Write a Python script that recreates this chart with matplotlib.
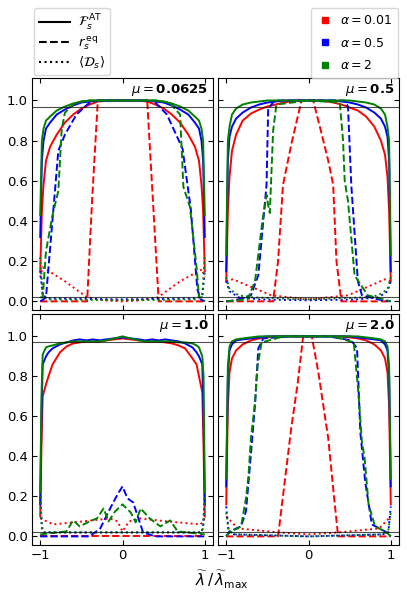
import numpy as np
import matplotlib
matplotlib.use("Agg")
import matplotlib.pyplot as plt
from matplotlib.lines import Line2D

plt.rcParams['mathtext.fontset'] = 'dejavusans'
plt.rcParams['font.family'] = ['DejaVu Sans']

mus = ["0.0625", "0.5", "1.0", "2.0"]
alphas = ["0.01", "0.5", "2"]
colors = ["red", "blue", "green"]

# ---------------- Panel A: mu = 0.0625 ----------------
A_xs = [-1, -0.98, -0.96, -0.93, -0.88, -0.8, -0.7, -0.6, -0.5, -0.4, -0.3, -0.15, 0,
        0.15, 0.3, 0.4, 0.5, 0.6, 0.7, 0.8, 0.88, 0.93, 0.96, 0.98, 1]
A_solid_red = [0.15, 0.45, 0.58, 0.70, 0.77, 0.83, 0.89, 0.93, 0.96, 0.98, 0.995, 1.0, 1.0,
               1.0, 0.995, 0.98, 0.96, 0.93, 0.89, 0.83, 0.77, 0.70, 0.58, 0.45, 0.15]
A_solid_blue = [0.32, 0.70, 0.80, 0.86, 0.89, 0.93, 0.955, 0.975, 0.99, 0.995, 1.0, 1.0, 1.0,
                1.0, 1.0, 0.995, 0.99, 0.975, 0.955, 0.93, 0.89, 0.86, 0.80, 0.70, 0.32]
A_solid_green = [0.43, 0.80, 0.86, 0.90, 0.92, 0.95, 0.97, 0.985, 0.995, 1.0, 1.0, 1.0, 1.0,
                 1.0, 1.0, 1.0, 0.995, 0.985, 0.97, 0.95, 0.92, 0.90, 0.86, 0.80, 0.43]
A_dash_red_x = [-1, -0.43, -0.37, -0.3, 0.3, 0.37, 0.44, 1]
A_dash_red_y = [0.0, 0.0, 0.5, 1.0, 1.0, 0.5, 0.0, 0.0]
A_dash_blue_x = [-1, -0.96, -0.93, -0.85, -0.78, -0.70, -0.56, -0.40, -0.3, 0, 0.3, 0.40,
                 0.54, 0.73, 0.83, 0.91, 0.95, 1]
A_dash_blue_y = [0.0, 0.01, 0.02, 0.41, 0.75, 0.83, 0.93, 0.99, 1.0, 1.0, 1.0, 0.99,
                 0.93, 0.76, 0.46, 0.06, 0.01, 0.0]
A_dash_green_x = [-1, -0.97, -0.93, -0.85, -0.78, -0.74, -0.70, -0.57, -0.4, 0, 0.4, 0.57,
                  0.70, 0.74, 0.82, 0.9, 0.93, 0.97, 1]
A_dash_green_y = [0.02, 0.02, 0.25, 0.43, 0.55, 0.85, 0.94, 0.99, 1.0, 1.0, 1.0, 0.99,
                  0.93, 0.57, 0.47, 0.17, 0.02, 0.02, 0.0]
A_dot_red_x = [-1, -0.97, -0.7, -0.43, -0.2, 0, 0.2, 0.43, 0.7, 0.97, 1]
A_dot_red_y = [0.12, 0.17, 0.10, 0.02, 0.005, 0.0, 0.005, 0.02, 0.10, 0.16, 0.12]
A_dot_blue_x = [-1, -0.97, -0.9, 0, 0.9, 0.97, 1]
A_dot_blue_y = [0.15, 0.03, 0.015, 0.01, 0.015, 0.03, 0.15]
A_dot_green_x = [-1, -0.97, -0.9, 0, 0.9, 0.97, 1]
A_dot_green_y = [0.22, 0.03, 0.01, 0.005, 0.01, 0.03, 0.22]

# ---------------- Panel B: mu = 0.5 ----------------
B_xs = A_xs
B_solid_red = [0.10, 0.45, 0.62, 0.75, 0.83, 0.90, 0.935, 0.955, 0.97, 0.98, 0.99, 1.0, 1.0,
               1.0, 0.99, 0.98, 0.965, 0.95, 0.92, 0.87, 0.80, 0.73, 0.62, 0.45, 0.10]
B_solid_blue = [0.15, 0.70, 0.82, 0.87, 0.91, 0.94, 0.965, 0.98, 0.99, 0.995, 1.0, 1.0, 1.0,
                1.0, 1.0, 0.995, 0.99, 0.98, 0.965, 0.94, 0.91, 0.87, 0.82, 0.70, 0.15]
B_solid_green = [0.23, 0.80, 0.87, 0.93, 0.96, 0.98, 0.99, 0.995, 1.0, 1.0, 1.0, 1.0, 1.0,
                 1.0, 1.0, 1.0, 1.0, 0.995, 0.99, 0.98, 0.96, 0.93, 0.87, 0.80, 0.23]
B_dash_red_x = [-1, -0.43, -0.37, -0.31, -0.21, -0.085, 0.057, 0.15, 0.24, 0.30, 0.34, 0.40, 1]
B_dash_red_y = [0.0, 0.0, 0.2, 0.58, 0.78, 1.0, 1.0, 0.85, 0.7, 0.58, 0.2, 0.0, 0.0]
B_dash_blue_x = [-1, -0.9, -0.7, -0.61, -0.51, -0.49, -0.41, 0, 0.44, 0.48, 0.52, 0.6, 0.65, 0.9, 1]
B_dash_blue_y = [0.0, 0.005, 0.03, 0.13, 0.58, 0.96, 1.0, 1.0, 1.0, 0.97, 0.58, 0.1, 0.03, 0.005, 0.0]
B_dash_green_x = [-1, -0.74, -0.65, -0.56, -0.51, -0.49, -0.47, -0.43, -0.39, 0, 0.38, 0.42,
                  0.44, 0.46, 0.48, 0.56, 0.72, 1]
B_dash_green_y = [0.0, 0.01, 0.1, 0.4, 0.53, 0.48, 0.44, 0.85, 0.98, 1.0, 0.99, 0.8,
                  0.6, 0.55, 0.5, 0.13, 0.03, 0.0]
B_dot_red_x = [-1, -0.92, -0.45, 0, 0.48, 0.93, 1]
B_dot_red_y = [0.10, 0.11, 0.03, 0.01, 0.03, 0.11, 0.10]
B_dot_blue_x = [-1, -0.96, -0.85, -0.6, 0, 0.6, 0.85, 0.96, 1]
B_dot_blue_y = [0.10, 0.05, 0.02, 0.01, 0.005, 0.01, 0.02, 0.05, 0.10]
B_dot_green_x = [-1, -0.96, -0.85, -0.7, 0, 0.7, 0.85, 0.96, 1]
B_dot_green_y = [0.12, 0.06, 0.03, 0.02, 0.01, 0.02, 0.03, 0.06, 0.12]

# ---------------- Panel C: mu = 1.0 ----------------
C_xs = [-1, -0.985, -0.97, -0.93, -0.9, -0.85, -0.76, -0.68, -0.6, -0.52, -0.44, -0.36, -0.28,
        -0.2, -0.1, 0, 0.1, 0.2, 0.28, 0.36, 0.44, 0.52, 0.6, 0.68, 0.76, 0.85, 0.9, 0.93,
        0.97, 0.985, 1]
C_solid_red = [0.10, 0.45, 0.70, 0.76, 0.80, 0.86, 0.92, 0.95, 0.965, 0.97, 0.975, 0.975, 0.975,
               0.98, 0.985, 0.99, 0.985, 0.98, 0.975, 0.975, 0.975, 0.97, 0.965, 0.955, 0.94,
               0.89, 0.86, 0.80, 0.72, 0.45, 0.10]
C_solid_blue = [0.16, 0.60, 0.86, 0.90, 0.92, 0.94, 0.96, 0.97, 0.98, 0.985, 0.98, 0.985, 0.98,
                0.985, 0.99, 0.995, 0.99, 0.985, 0.98, 0.985, 0.98, 0.985, 0.98, 0.975, 0.965,
                0.945, 0.92, 0.90, 0.86, 0.60, 0.16]
C_solid_green = [0.22, 0.70, 0.91, 0.945, 0.95, 0.955, 0.965, 0.97, 0.975, 0.975, 0.975, 0.975,
                 0.975, 0.98, 0.99, 1.0, 0.99, 0.98, 0.975, 0.975, 0.975, 0.975, 0.975, 0.97,
                 0.97, 0.965, 0.955, 0.945, 0.90, 0.80, 0.22]
C_dash_red_x = [-1, 0, 1]
C_dash_red_y = [0.0, 0.0, 0.0]
C_dash_blue_x = [-1, -0.4, -0.27, -0.15, -0.06, 0, 0.06, 0.13, 0.21, 0.25, 0.4, 1]
C_dash_blue_y = [0.0, 0.0, 0.04, 0.14, 0.21, 0.25, 0.19, 0.17, 0.07, 0.02, 0.0, 0.0]
C_dash_green_x = [-1, -0.68, -0.6, -0.52, -0.4, -0.31, -0.23, -0.17, -0.09, 0, 0.1, 0.16,
                  0.22, 0.33, 0.46, 0.58, 0.67, 1]
C_dash_green_y = [0.01, 0.025, 0.08, 0.05, 0.075, 0.09, 0.14, 0.075, 0.125, 0.16, 0.12, 0.07,
                  0.14, 0.09, 0.05, 0.08, 0.025, 0.01]
C_dot_red_x = [-1, -0.84, -0.48, -0.15, -0.06, 0, 0.08, 0.21, 0.54, 0.95, 1]
C_dot_red_y = [0.09, 0.06, 0.075, 0.09, 0.075, 0.025, 0.075, 0.09, 0.075, 0.06, 0.09]
C_dot_blue_x = [-1, -0.98, -0.96, 0, 0.96, 0.98, 1]
C_dot_blue_y = [0.20, 0.05, 0.02, 0.02, 0.02, 0.05, 0.20]
C_dot_green_x = [-1, -0.98, -0.95, 0, 0.95, 0.98, 1]
C_dot_green_y = [0.20, 0.04, 0.02, 0.02, 0.02, 0.04, 0.20]

# ---------------- Panel D: mu = 2.0 ----------------
D_xs = A_xs
D_solid_red = [0.16, 0.65, 0.82, 0.89, 0.93, 0.96, 0.98, 0.99, 0.995, 1.0, 1.0, 1.0, 1.0,
               1.0, 1.0, 1.0, 0.995, 0.99, 0.98, 0.96, 0.93, 0.89, 0.82, 0.65, 0.16]
D_solid_blue = [0.25, 0.80, 0.93, 0.96, 0.98, 0.985, 0.99, 0.995, 1.0, 1.0, 1.0, 1.0, 1.0,
                1.0, 1.0, 1.0, 1.0, 0.995, 0.99, 0.985, 0.98, 0.96, 0.93, 0.80, 0.25]
D_solid_green = [0.29, 0.85, 0.95, 0.975, 0.985, 0.99, 0.995, 1.0, 1.0, 1.0, 1.0, 1.0, 1.0,
                 1.0, 1.0, 1.0, 1.0, 1.0, 0.995, 0.99, 0.985, 0.975, 0.95, 0.85, 0.29]
D_dash_red_x = [-1, -0.37, -0.29, -0.21, -0.13, -0.065, 0.04, 0.12, 0.24, 0.30, 0.36, 1]
D_dash_red_y = [0.0, 0.0, 0.27, 0.54, 0.77, 1.0, 1.0, 0.82, 0.49, 0.24, 0.0, 0.0]
D_dash_blue_x = [-1, -0.96, -0.82, -0.76, -0.7, -0.65, -0.61, -0.55, -0.25, 0, 0.25, 0.52,
                 0.59, 0.63, 0.69, 0.77, 0.93, 1]
D_dash_blue_y = [0.0, 0.025, 0.05, 0.125, 0.41, 0.66, 0.94, 0.99, 1.0, 1.0, 1.0, 0.98,
                 0.94, 0.52, 0.27, 0.06, 0.025, 0.0]
D_dash_green_x = [-1, -0.96, -0.82, -0.76, -0.73, -0.7, -0.65, -0.62, -0.57, -0.3, 0, 0.3,
                  0.55, 0.6, 0.65, 0.68, 0.73, 0.81, 0.95, 1]
D_dash_green_y = [0.0, 0.02, 0.05, 0.19, 0.3, 0.49, 0.67, 0.85, 0.97, 1.0, 1.0, 1.0,
                  0.97, 0.75, 0.47, 0.4, 0.16, 0.05, 0.02, 0.0]
D_dot_red_x = [-1, -0.86, -0.37, 0, 0.37, 0.86, 1]
D_dot_red_y = [0.10, 0.04, 0.02, 0.01, 0.02, 0.04, 0.10]
D_dot_blue_x = [-1, -0.97, -0.9, 0, 0.9, 0.97, 1]
D_dot_blue_y = [0.15, 0.02, 0.01, 0.0, 0.01, 0.02, 0.15]
D_dot_green_x = [-1, -0.97, -0.9, 0, 0.9, 0.97, 1]
D_dot_green_y = [0.12, 0.03, 0.01, 0.0, 0.01, 0.03, 0.12]

panels = [
    (A_xs, [A_solid_red, A_solid_blue, A_solid_green],
     [(A_dash_red_x, A_dash_red_y), (A_dash_blue_x, A_dash_blue_y), (A_dash_green_x, A_dash_green_y)],
     [(A_dot_red_x, A_dot_red_y), (A_dot_blue_x, A_dot_blue_y), (A_dot_green_x, A_dot_green_y)]),
    (B_xs, [B_solid_red, B_solid_blue, B_solid_green],
     [(B_dash_red_x, B_dash_red_y), (B_dash_blue_x, B_dash_blue_y), (B_dash_green_x, B_dash_green_y)],
     [(B_dot_red_x, B_dot_red_y), (B_dot_blue_x, B_dot_blue_y), (B_dot_green_x, B_dot_green_y)]),
    (C_xs, [C_solid_red, C_solid_blue, C_solid_green],
     [(C_dash_red_x, C_dash_red_y), (C_dash_blue_x, C_dash_blue_y), (C_dash_green_x, C_dash_green_y)],
     [(C_dot_red_x, C_dot_red_y), (C_dot_blue_x, C_dot_blue_y), (C_dot_green_x, C_dot_green_y)]),
    (D_xs, [D_solid_red, D_solid_blue, D_solid_green],
     [(D_dash_red_x, D_dash_red_y), (D_dash_blue_x, D_dash_blue_y), (D_dash_green_x, D_dash_green_y)],
     [(D_dot_red_x, D_dot_red_y), (D_dot_blue_x, D_dot_blue_y), (D_dot_green_x, D_dot_green_y)]),
]

W, H = 407, 594
fig = plt.figure(figsize=(W / 100, H / 100), dpi=100)

# axes rectangles in pixels: (left, top, right, bottom)
rects = [(32, 78, 213, 310), (218, 78, 399, 310), (32, 314, 213, 545), (218, 314, 399, 545)]
lw = 1.4
for i, (rect, (xs, sol, das, dots)) in enumerate(zip(rects, panels)):
    l, t, r, b = rect
    ax = fig.add_axes([l / W, 1 - b / H, (r - l) / W, (b - t) / H])
    for c in range(3):
        ax.plot(xs, sol[c], color=colors[c], lw=lw, ls='-')
        ax.plot(das[c][0], das[c][1], color=colors[c], lw=lw, ls='--')
        ax.plot(dots[c][0], dots[c][1], color=colors[c], lw=lw, ls=':')
    ax.axhline(0.97, color='black', lw=0.8, alpha=0.7)
    ax.axhline(0.02, color='black', lw=0.8, alpha=0.7)
    ax.set_xlim(-1.1, 1.1)
    ax.set_ylim(-0.043, 1.112)
    ax.set_xticks([-1, 0, 1])
    ax.set_yticks([0, 0.2, 0.4, 0.6, 0.8, 1.0])
    ax.tick_params(direction='in', top=True, right=True, labelsize=9.5, length=3.5, width=0.8,
                   pad=3)
    ax.set_xticklabels(['\u22121', '0', '1'])
    if i % 2 == 1:
        ax.tick_params(labelleft=False)
    if i < 2:
        ax.tick_params(labelbottom=False)
    ax.text(0.975, 0.982, r'$\mu = $' + mus[i], transform=ax.transAxes, ha='right', va='top',
            fontsize=9.5, fontweight='bold')

fig.text(222 / W, 1 - 580 / H, r'$\widetilde{\lambda}\,/\,\widetilde{\lambda}_{\max}$',
         ha='center', va='center', fontsize=11)

h1 = [Line2D([], [], color='black', ls='-', lw=1.5),
      Line2D([], [], color='black', ls='--', lw=1.5),
      Line2D([], [], color='black', ls=':', lw=1.5)]
l1 = [r'$\mathcal{F}_s^{\,\mathrm{AT}}$', r'$r_s^{\,\mathrm{eq}}$', r'$\langle\mathcal{D}_s\rangle$']
fig.legend(h1, l1, loc='upper left', bbox_to_anchor=(34 / W, 1 - 8 / H), fontsize=9.5,
           handlelength=2.4, labelspacing=0.15, borderpad=0.35, handletextpad=0.6,
           borderaxespad=0.0)

h2 = [Line2D([], [], color=c, marker='s', ls='none', markersize=5) for c in colors]
l2 = [r'$\alpha = $' + a for a in alphas]
fig.legend(h2, l2, loc='upper right', bbox_to_anchor=(398 / W, 1 - 8 / H), fontsize=9,
           labelspacing=0.75, borderpad=0.5, handletextpad=0.6, handlelength=1.2,
           borderaxespad=0.0)

fig.savefig('out.png', dpi=100)
